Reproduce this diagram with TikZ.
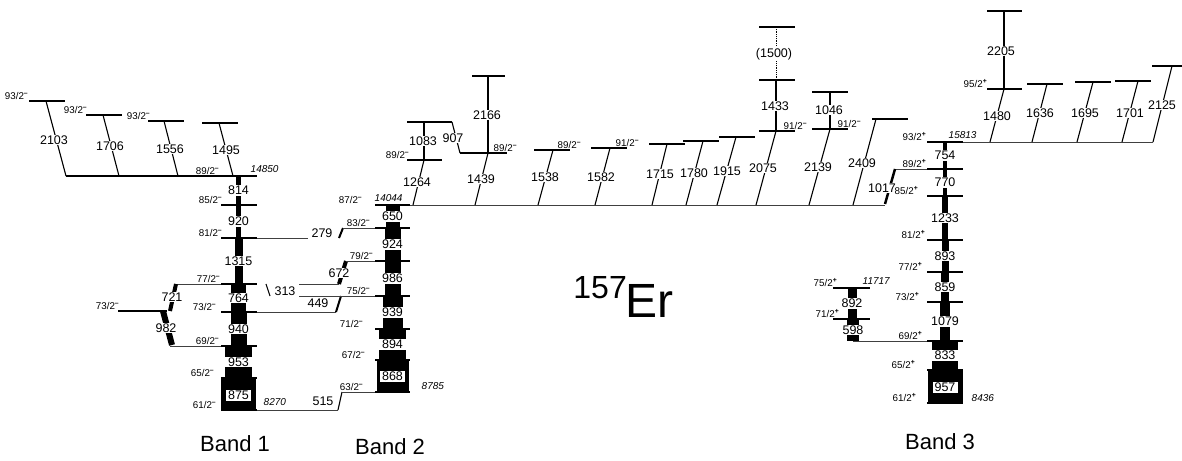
\documentclass[tikz,border=0pt]{standalone}
\usepackage{fontspec}
\setmainfont{Liberation Sans}
\newcommand{\jm}[1]{#1/2\textsuperscript{\bfseries --}}
\newcommand{\jp}[1]{#1/2\textsuperscript{\bfseries +}}
% black intensity bar with the energy in a white gap
\newcommand{\gbar}[6]{%
  \fill (#2-#5/2,#3) rectangle (#2+#5/2,#4);
  \node[glab,minimum width={(#5+2)*1pt}] (#1) at (#2,{(#3+#4)/2}) {#6};}
% same, energy in a framed box
\newcommand{\gboxbar}[7]{%
  \fill (#2-#5/2,#3) rectangle (#2+#5/2,#4);
  \node[gbox] (#1) at (#2,#7) {#6};}
\tikzset{erscheme/.style={x=1pt,y=-1pt}}
\tikzset{lvl/.style={black,line width=1.6pt},
         lvlx/.style={black!75,line width=1pt},
         gam/.style={black,line width=1.1pt},
         glab/.style={fill=white,inner sep=1pt,font=\fontsize{12.5}{13}\selectfont},
         gbox/.style={glab,draw=black,line width=0.6pt,inner xsep=2.5pt,inner ysep=1.5pt},
         jlab/.style={inner sep=0.5pt,font=\fontsize{9.8}{10}\selectfont},
         elab/.style={inner sep=0.5pt,font=\fontsize{10}{10}\selectfont\itshape},
         blab/.style={inner sep=0pt,font=\fontsize{22}{22}\selectfont}}

\begin{document}
\begin{tikzpicture}[erscheme]
    \useasboundingbox (0,0) rectangle (1182,460);
    % band 1
    \gbar{t814}{238.5}{176}{205}{5}{814}
    \gbar{t920}{238.5}{205}{238}{5}{920}
    \gbar{t1315}{238.5}{238}{284}{8}{1315}
    \gbar{t764}{238.5}{284}{312}{15}{764}
    \gbar{t940}{238.5}{312}{346}{16}{940}
    \gbar{t953}{238.5}{346}{378}{27}{953}
    \gboxbar{t875}{238.5}{378}{410}{35}{875}{395}
    \foreach \y in {410,378,346,312,284,238,205} \draw[lvl] (221,\y) -- (257,\y);
    \draw[lvl] (66,176) -- (257,176);
    \draw[lvlx] (257,410) -- (338,410);
    \draw[lvlx] (170,346) -- (221,346);
    \draw[lvlx] (257,312) -- (336,312);
    \draw[lvlx] (174,284) -- (221,284);
    \draw[lvlx] (257,238) -- (308,238);
    \draw[lvl] (118,311) -- (167,311);
    \foreach \xl/\yl/\xt/\xb/\lab/\lx/\ly in {29/101/46/66/2103/54/140, 86/115/103/119/1706/110/146,
        148/121/164/178/1556/170/149, 202/123/219/233/1495/226/150} {
      \draw[lvl] (\xl,\yl) -- ++(36,0);
      \draw[gam] (\xt,\yl) -- (\xb,176);
      \node[glab] (t\lab) at (\lx,\ly) {\lab};
    }
    \draw[black,line width=4pt] (176,284) -- (170,311);
    \node[glab] (t721) at (172,297) {721};
    \draw[black,line width=6pt] (163,311) -- (172,345);
    \node[glab] (t982) at (166,328) {982};
    \draw[gam] (266,284) -- (270,296);
    \node[glab] (t313) at (285,291) {313};
    \draw[black,line width=2pt] (343,228) -- (339,238);
    \node[glab] (t279) at (322,233) {279};
    \draw[lvlx] (299,284) -- (339,284);
    \draw[black,line width=4pt] (346,261) -- (339,284);
    \node[glab] (t672) at (339,273) {672};
    \draw[black,line width=2pt] (341,296) -- (336,312);
    \node[glab] (t449) at (318,303) {449};
    \draw[gam] (342,392) -- (338,410);
    \node[glab] (t515) at (323,401) {515};
    \foreach \j/\x/\y in {61/217/409, 65/215/377, 69/220/345, 73/217/311, 77/221/283, 81/223/237,
        85/223/204, 89/220/175, 73/120/310, 93/29/100, 93/88/114, 93/151/120}
      \node[jlab,anchor=south east] (ja\j) at (\x,\y) {\jm{\j}};
    \node[elab,anchor=west] (e8270) at (263,402) {8270};
    \node[elab,anchor=west] (e14850) at (250,169) {14850};

    % band 2
    \gbar{t650}{392.5}{205}{228}{14}{650}
    \gbar{t924}{392.5}{228}{261}{16}{924}
    \gbar{t986}{392.5}{261}{296}{16}{986}
    \gbar{t939}{392.5}{296}{329}{20}{939}
    \gbar{t894}{392.5}{329}{360}{27}{894}
    \gboxbar{t868}{392.5}{360}{392}{32}{868}{376}
    \foreach \y in {392,360,329,296,261,228,205} \draw[lvl] (375,\y) -- (410,\y);
    \draw[lvlx] (342,392) -- (375,392);
    \draw[lvlx] (299,296) -- (375,296);
    \draw[lvlx] (346,261) -- (375,261);
    \draw[lvlx] (343,228) -- (375,228);
    \draw[lvlx] (410,205) -- (885,205);
    \draw[lvl] (407,122) -- (452,122);
    \draw[lvl] (407,160) -- (442,160);
    \draw[lvl] (460,153) -- (507,153);
    \draw[lvl] (472,76) -- (505,76);
    \draw[gam] (424,122) -- (424,160);
    \node[glab] (t1083) at (423,141) {1083};
    \draw[gam] (424,160) -- (413,205);
    \node[glab] (t1264) at (417,182) {1264};
    \draw[gam] (452,122) -- (460,153);
    \node[glab] (t907) at (453,138) {907};
    \draw[gam] (488,76) -- (488,153);
    \node[glab] (t2166) at (487,115) {2166};
    \draw[gam] (488,153) -- (475,205);
    \node[glab] (t1439) at (481,179) {1439};
    \foreach \j/\x/\y in {63/364/391, 67/366/359, 71/364/328, 75/371/295, 79/374/260, 83/371/227,
        87/363/204, 89/410/159}
      \node[jlab,anchor=south east] (jb\j) at (\x,\y) {\jm{\j}};
    \node[jlab,anchor=south west] (jb89r) at (493,152) {\jm{89}};
    \node[elab,anchor=west] (e8785) at (421,386) {8785};
    \node[elab,anchor=west] (e14044) at (374,198) {14044};

    % branches from 14044
    \foreach \xl/\yl/\xt/\xb/\lab/\lx/\ly in {534/150/553/538/1538/545/177, 591/148/610/595/1582/601/177,
        649/144/667/652/1715/660/174, 683/141/703/686/1780/694/173, 719/137/736/717/1915/727/171,
        759/131/776/756/2075/763/168, 812/129/830/809/2139/818/167, 872/119/876/853/2409/862/163} {
      \draw[lvl] (\xl,\yl) -- ++(36,0);
      \draw[gam] (\xt,\yl) -- (\xb,205);
      \node[glab] (t\lab) at (\lx,\ly) {\lab};
    }
    \draw[lvl] (759,80) -- (795,80);
    \draw[lvl] (759,27) -- (795,27);
    \draw[gam] (776,80) -- (776,131);
    \node[glab] (t1433) at (775,106) {1433};
    \draw[black,line width=0.8pt,densely dotted] (776,27) -- (776,80);
    \node[glab] (t1500) at (774,54) {(1500)};
    \draw[lvl] (812,92) -- (848,92);
    \draw[gam] (830,92) -- (830,129);
    \node[glab] (t1046) at (829,110) {1046};
    \foreach \j/\x/\y in {89/557/149, 91/615/147, 91/783/130, 91/837/128}
      \node[jlab,anchor=south west] (jm\x) at (\x,\y) {\jm{\j}};

    % band 3
    \gbar{t754}{945}{142}{169}{4}{754}
    \gbar{t770}{945}{169}{196}{4}{770}
    \gbar{t1233}{945}{196}{240}{6}{1233}
    \gbar{t893}{945}{240}{272}{7}{893}
    \gbar{t859}{945}{272}{302}{8}{859}
    \gbar{t1079}{945}{302}{341}{10}{1079}
    \gbar{t833}{945}{341}{370}{26}{833}
    \gboxbar{t957}{945}{370}{403}{35}{957}{387}
    \foreach \y in {403,370,341,302,272,240,196,169,142} \draw[lvl] (927,\y) -- (963,\y);
    \draw[lvlx] (853,341) -- (927,341);
    \draw[lvlx] (895,169) -- (927,169);
    \draw[lvlx] (963,142) -- (1153,142);
    \draw[black,line width=2.5pt] (885,204) -- (895,169);
    \node[glab] (t1017) at (882,188) {1017};
    \gbar{t892}{852}{288}{319}{9}{892}
    \gbar{t598}{853}{319}{341}{12}{598}
    \draw[lvl] (833,288) -- (870,288);
    \draw[lvl] (833,319) -- (870,319);
    \draw[lvl] (987,89) -- (1022,89);
    \draw[lvl] (987,11) -- (1022,11);
    \draw[gam] (1004,11) -- (1004,89);
    \node[glab] (t2205) at (1001,51) {2205};
    \draw[gam] (1004,89) -- (990,142);
    \node[glab] (t1480) at (997,116) {1480};
    \foreach \xl/\len/\yl/\xt/\xb/\lab/\lx/\ly in {1027/36/84/1047/1032/1636/1040/113,
        1075/36/82/1093/1077/1695/1085/113, 1115/36/81/1138/1122/1701/1130/113,
        1152/30/66/1172/1153/2125/1162/105} {
      \draw[lvl] (\xl,\yl) -- ++(\len,0);
      \draw[gam] (\xt,\yl) -- (\xb,142);
      \node[glab] (t\lab) at (\lx,\ly) {\lab};
    }
    \foreach \j/\x/\y in {93/927/141, 89/927/168, 85/919/195, 81/926/239, 77/923/271, 73/920/301,
        69/923/340, 65/916/369, 61/917/402, 75/838/287, 71/840/318, 95/988/88}
      \node[jlab,anchor=south east] (jc\j) at (\x,\y) {\jp{\j}};
    \node[elab,anchor=west] (e15813) at (948,135) {15813};
    \node[elab,anchor=west] (e8436) at (971,398) {8436};
    \node[elab,anchor=west] (e11717) at (862,281) {11717};

    \node[blab] (band1) at (235,444) {Band 1};
    \node[blab] (band2) at (390,447) {Band 2};
    \node[blab] (band3) at (940,442) {Band 3};
    \node[anchor=base west,inner sep=0pt,font=\fontsize{48}{48}\selectfont] (er) at (625,317) {Er};
    \node[anchor=base east,inner sep=0pt,font=\fontsize{32}{32}\selectfont] (mass) at (627,298) {157};
  \end{tikzpicture}
\end{document}
